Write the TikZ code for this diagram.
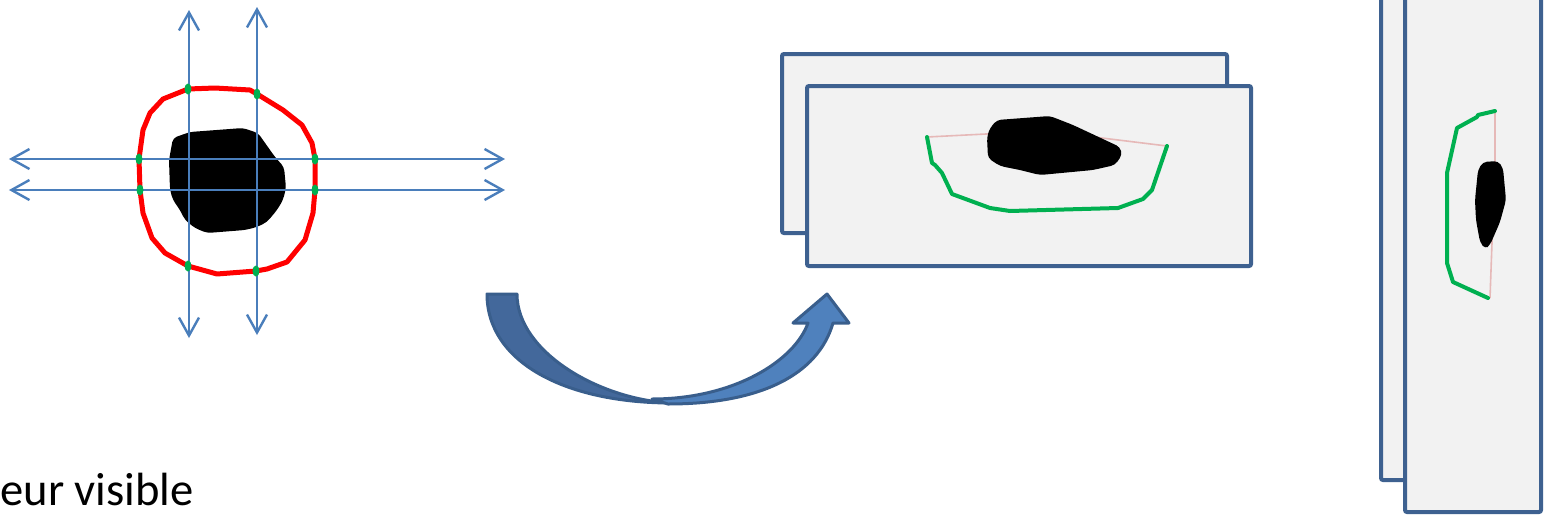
\documentclass[tikz,border=0pt]{standalone}
\usepackage{fontspec}
\setmainfont{Carlito}
\usetikzlibrary{arrows.meta}
\definecolor{axblue}{HTML}{4A7EBB}
\definecolor{cred}{HTML}{FF0000}
\definecolor{cgreen}{HTML}{00B050}
\definecolor{frameblue}{HTML}{3E6190}
\definecolor{panelfill}{HTML}{F2F2F2}
\definecolor{arrdark}{HTML}{43689B}
\definecolor{arrlight}{HTML}{4F81BD}
\definecolor{arrline}{HTML}{395E8C}
\definecolor{cpink}{HTML}{E6B9B8}
\tikzset{
  axis/.style={draw=axblue, line width=1.2pt,
    {Straight Barb[length=9pt,width=10pt,line width=1.2pt]}-{Straight Barb[length=9pt,width=10pt,line width=1.2pt]}},
  redline/.style={draw=cred, line width=2.5pt, line join=round},
  dot/.style={fill=cgreen, draw=none},
  panel/.style={draw=frameblue, fill=panelfill, line width=2pt, rounded corners=1pt},
  greenline/.style={draw=cgreen, line width=2pt, line join=round, line cap=round},
  pinkline/.style={draw=cpink, line width=0.8pt},
  blob/.style={fill=black, draw=none, rounded corners=2pt},
  bigarrow/.style={draw=arrline, line width=1.5pt, line join=round},
  lbl/.style={font=\fontsize{23.3}{27}\selectfont, inner sep=0pt, anchor=base west}
}
\begin{document}
\begin{tikzpicture}[x=0.5pt,y=-0.5pt]
\clip (0,0) rectangle (1544,515);
\fill[white] (0,0) rectangle (1544,515);

% ---------- left: contour, blob, axes ----------
\fill[blob] (173,138) -- (190,132) -- (243,128) -- (258,133) -- (275,157) -- (284,167)
  -- (286,188) -- (283,200) -- (277,210) -- (267,222) -- (257,227) -- (245,230)
  -- (207,233) -- (195,228) -- (185,220) -- (180,210) -- (173,200) -- (170,190)
  -- (169,160) -- cycle;
\draw[redline] (188,89) -- (215,88) -- (250,90) -- (257,94) -- (283,110) -- (302,125)
  -- (312,143) -- (315,159) -- (315,190) -- (313,213) -- (305,240) -- (287,262)
  -- (267,269) -- (256,271) -- (217,274) -- (188,266) -- (165,253) -- (152,238)
  -- (143,213) -- (140,190) -- (139,159) -- (143,130) -- (150,113) -- (163,99) -- cycle;

\coordinate (v1t) at (189,10);  \coordinate (v1b) at (189,338);
\coordinate (v2t) at (257,7);   \coordinate (v2b) at (257,335);
\coordinate (h1l) at (9,159);   \coordinate (h1r) at (505,159);
\coordinate (h2l) at (9,190);   \coordinate (h2r) at (505,190);
\draw[axis] (v1b) -- (v1t);
\draw[axis] (v2b) -- (v2t);
\draw[axis] (h1l) -- (h1r);
\draw[axis] (h2l) -- (h2r);

\foreach \p in {(188,89),(257,94),(139,159),(315,159),(140,190),(315,190),(188,266),(256,271)}
  \fill[dot] \p ellipse [x radius=3.5, y radius=5.5];

% ---------- curved arrow ----------
\filldraw[bigarrow, fill=arrdark] (487,294) .. controls (487,362) and (565,403) .. (672,403)
  .. controls (600,400) and (517,352) .. (517,294) -- cycle;
\filldraw[bigarrow, fill=arrlight] (652,399) .. controls (735,399) and (795,360) .. (808,323)
  -- (793,323) -- (827,294) -- (849,323) -- (833,323)
  .. controls (818,375) and (760,404) .. (668,404) -- cycle;

% ---------- middle panels ----------
\draw[panel] (782,54) rectangle (1227,233);
\draw[panel] (807,86) rectangle (1251,266);
\draw[pinkline] (927,137) -- (1045,131) -- (1167,146);
\fill[blob] (997,120) -- (1050,116) -- (1073,125) -- (1120,147) -- (1122,155) -- (1115,165)
  -- (1093,170) -- (1040,175) -- (1020,170) -- (1000,166) -- (988,158) -- (987,137)
  -- (990,128) -- cycle;
\draw[greenline] (927,137) -- (932,163) -- (935,165) -- (942,173) -- (952,194) -- (990,208)
  -- (1010,211) -- (1118,208) -- (1143,199) -- (1152,190) -- (1167,146);

% ---------- right panels ----------
\draw[panel] (1381,-20) rectangle (1460,480);
\draw[panel] (1405,-20) rectangle (1541,512);
\draw[pinkline] (1495,111) -- (1495,160) -- (1490,298);
\fill[blob] (1483,162) -- (1498,161) -- (1503,168) -- (1506,200) -- (1500,222) -- (1490,245)
  -- (1485,249) -- (1480,242) -- (1476,220) -- (1475,200) -- (1478,170) -- cycle;
\draw[greenline] (1495,111) -- (1478,115) -- (1477,117) -- (1457,128) -- (1447,173)
  -- (1447,263) -- (1453,282) -- (1488,298);

% ---------- text ----------
\node[lbl] (txt) at (0,505) {eur visible};
\end{tikzpicture}
\end{document}
